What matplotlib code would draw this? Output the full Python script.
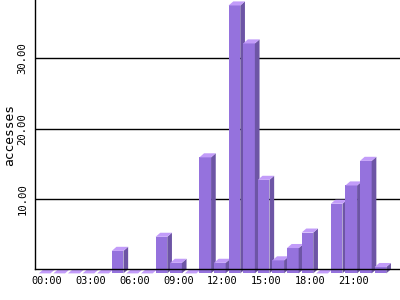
import matplotlib
matplotlib.use('Agg')
import matplotlib.pyplot as plt
from matplotlib.patches import Polygon

# hourly accesses
hours = list(range(24))
accesses = [0, 0, 0, 0, 0, 3.2, 0, 0, 5.2, 1.5, 0, 16.5,
            1.5, 38.1, 32.7, 13.3, 1.85, 3.6, 5.8, 0, 9.9, 12.5, 16.0, 0.9]
tick_hours = [0, 3, 6, 9, 12, 15, 18, 21]
tick_labels = ['00:00', '03:00', '06:00', '09:00', '12:00', '15:00', '18:00', '21:00']
y_ticks = [10, 20, 30]
y_tick_labels = ['10.00', '20.00', '30.00']

# colors of the 3d bars
front_color = '#9572dd'
side_color = '#6d55a5'
top_color = '#c29cf9'

fig = plt.figure(figsize=(4, 3), dpi=100)
ax = fig.add_axes([35/400, (300-269.3)/300, 365/400, 269.3/300])

ax.set_xlim(-0.82, 24.18)
ax.set_ylim(0, 38.3)

# bar size (data units)
w = 0.80
dx = 0.32
dy = 0.58

for h, v in zip(hours, accesses):
  x0 = h - (w + dx) / 2
  front = Polygon([(x0, -dy), (x0 + w, -dy), (x0 + w, v - dy), (x0, v - dy)],
                  closed=True, facecolor=front_color, linewidth=0, clip_on=False, zorder=1)
  side = Polygon([(x0 + w, -dy), (x0 + w + dx, 0), (x0 + w + dx, v), (x0 + w, v - dy)],
                 closed=True, facecolor=side_color, linewidth=0, clip_on=False, zorder=1)
  top = Polygon([(x0, v - dy), (x0 + w, v - dy), (x0 + w + dx, v), (x0 + dx, v)],
                closed=True, facecolor=top_color, linewidth=0, clip_on=False, zorder=1)
  ax.add_patch(front)
  ax.add_patch(side)
  ax.add_patch(top)

# grid behind bars
ax.set_axisbelow(True)
ax.yaxis.grid(True, color='black', linewidth=1)

ax.spines['top'].set_visible(False)
ax.spines['right'].set_visible(False)
ax.spines['left'].set_linewidth(1)
ax.spines['bottom'].set_linewidth(1)
ax.spines['bottom'].set_zorder(5)

ax.set_xticks(tick_hours)
ax.set_xticklabels(tick_labels, family='DejaVu Sans Mono', fontsize=7.4)
ax.set_yticks(y_ticks)
ax.set_yticklabels(y_tick_labels, family='DejaVu Sans Mono', fontsize=7.6,
                   rotation=90, va='center')
ax.tick_params(axis='x', length=0, pad=5)
ax.tick_params(axis='y', length=0, pad=5.5)

ax.set_ylabel('accesses', fontsize=9.3, family='DejaVu Sans Mono')
ax.yaxis.set_label_coords(-0.053, 0.5)

fig.savefig('out.png', dpi=100)
